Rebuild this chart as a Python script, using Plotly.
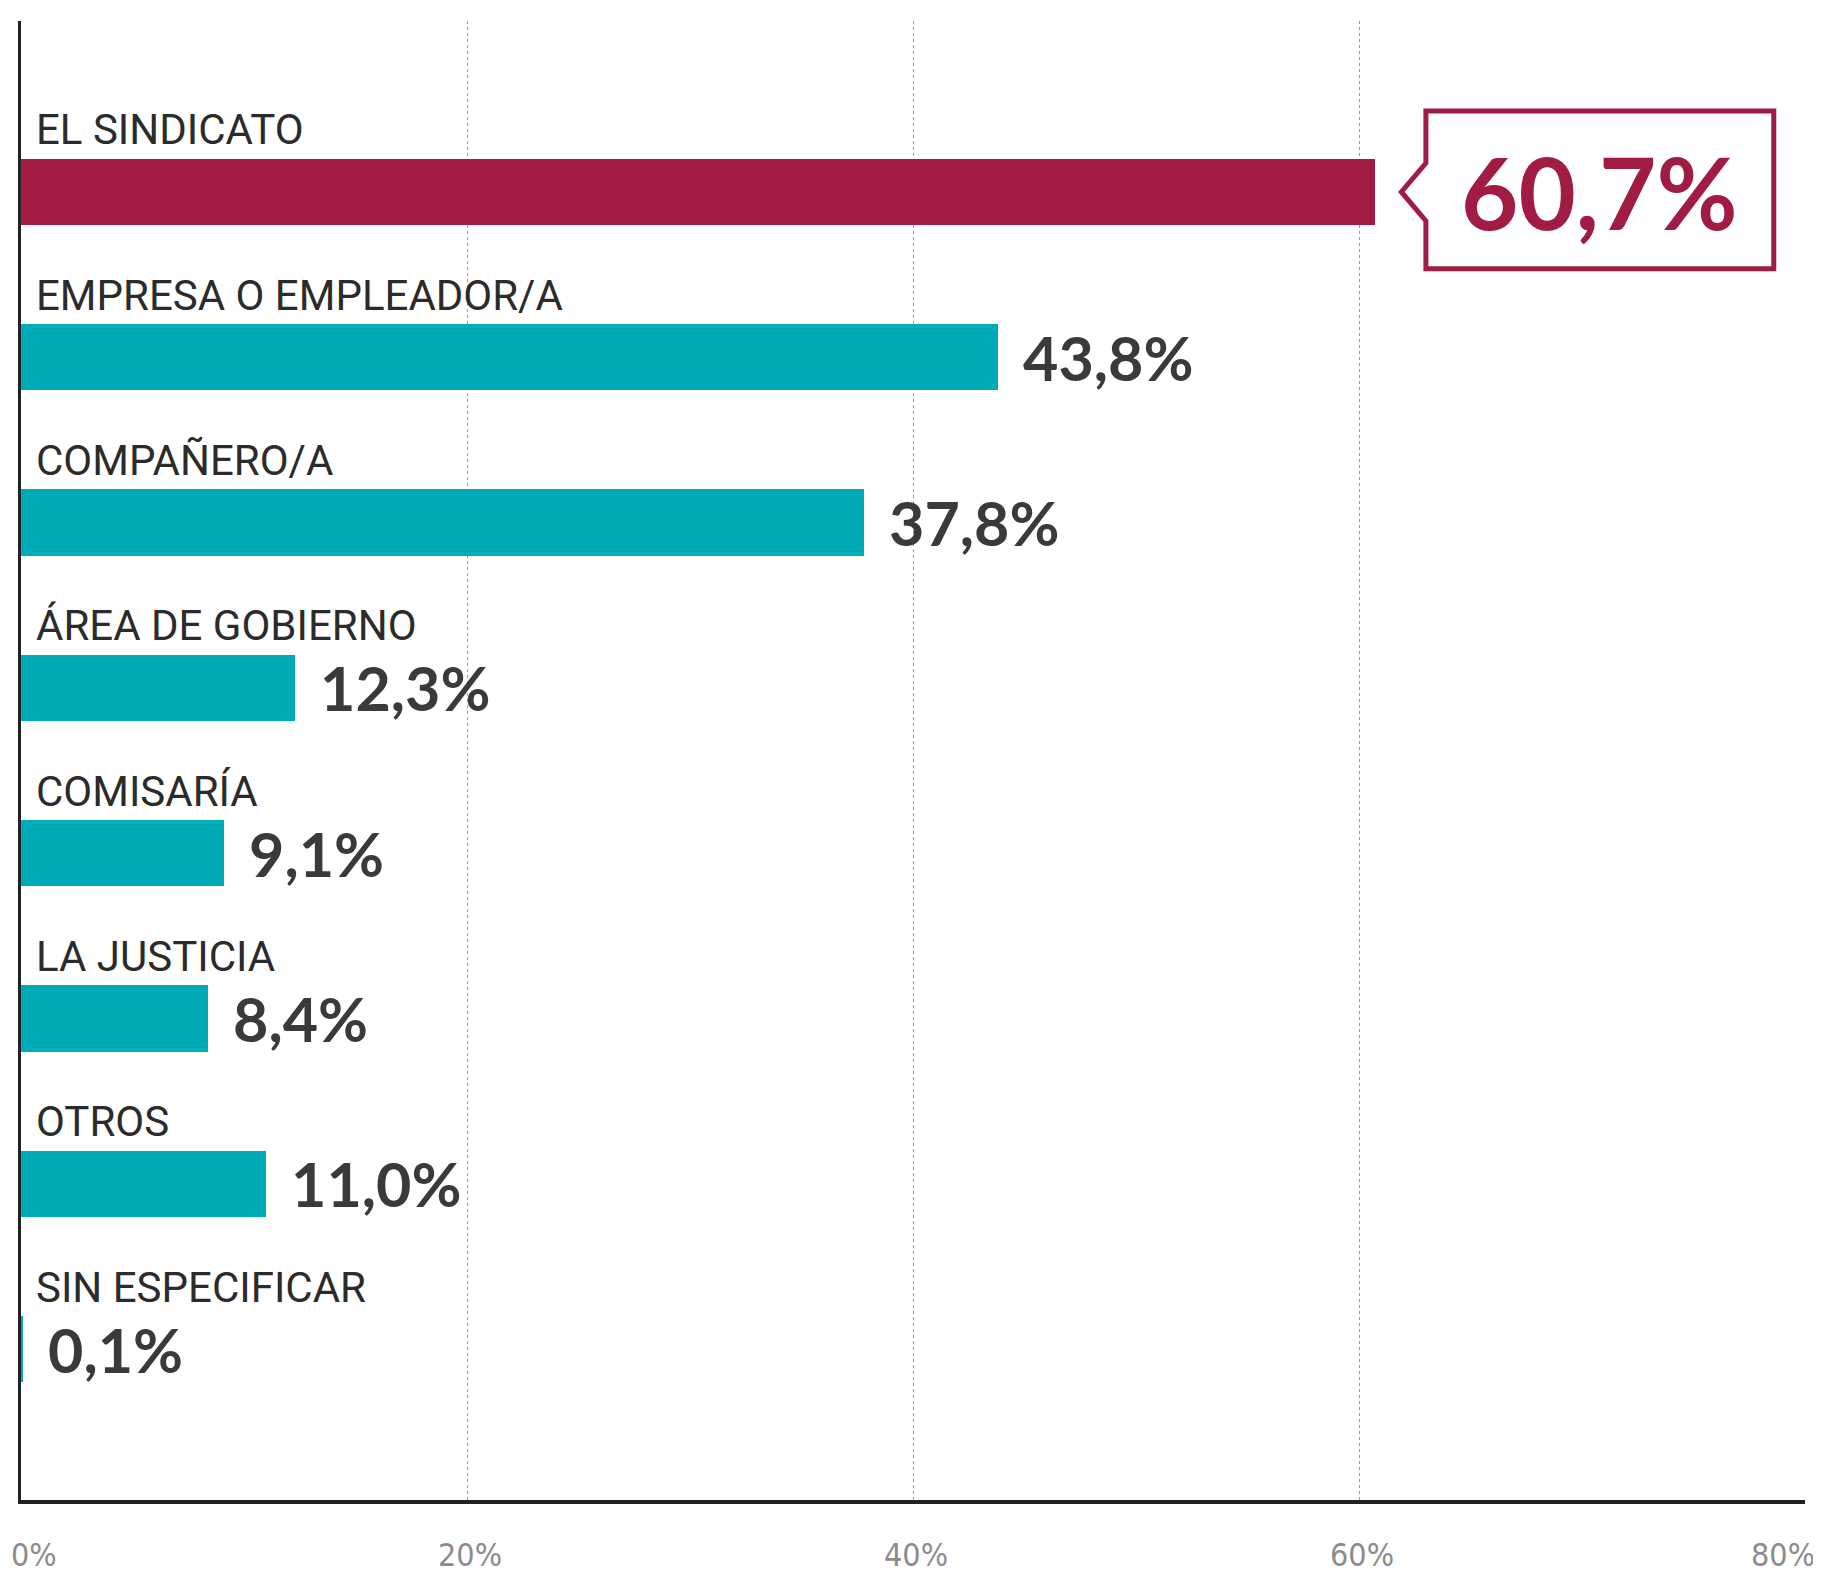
import plotly.graph_objects as go

categories = ["EL SINDICATO", "EMPRESA O EMPLEADOR/A", "COMPAÑERO/A", "ÁREA DE GOBIERNO",
              "COMISARÍA", "LA JUSTICIA", "OTROS", "SIN ESPECIFICAR"]
values = [60.7, 43.8, 37.8, 12.3, 9.1, 8.4, 11.0, 0.1]
value_labels = ["60,7%", "43,8%", "37,8%", "12,3%", "9,1%", "8,4%", "11,0%", "0,1%"]
tick_vals = [0, 20, 40, 60, 80]
tick_text = ["0%", "20%", "40%", "60%", "80%"]

CRIMSON = "#A11C42"
TEAL = "#00ABB8"
DARK = "#3a3a3a"

ypos = list(range(len(categories)))
colors = [CRIMSON] + [TEAL] * (len(categories) - 1)

fig = go.Figure()
fig.add_trace(go.Bar(
    x=values, y=ypos, orientation="h", width=0.40,
    marker=dict(color=colors, line=dict(width=0)),
    hoverinfo="skip", showlegend=False,
))

# category labels above bars
for i, c in enumerate(categories):
    fig.add_annotation(x=0, y=i - 0.375, xref="x", yref="y", text=c, showarrow=False,
                       xanchor="left", yanchor="middle", xshift=13,
                       font=dict(family="Roboto, Liberation Sans, sans-serif", size=42, color="#2b2b2b"))

# value labels (all but highlighted)
for i in range(1, len(values)):
    fig.add_annotation(x=values[i], y=i, xref="x", yref="y", text=value_labels[i], showarrow=False,
                       xanchor="left", yanchor="middle", xshift=23,
                       font=dict(family="Lato, sans-serif", size=61, color=DARK, weight="bold"))

# highlighted tag for the first value
v0 = values[0]
px = v0 + 1.2   # tip of notch
lx = v0 + 2.3   # left edge of box
rx = v0 + 17.9  # right edge of box
ty, by = -0.49, 0.465
n = 0.175
path = (f"M {lx},{ty} L {rx},{ty} L {rx},{by} L {lx},{by} L {lx},{n} "
        f"L {px},0 L {lx},{-n} Z")
fig.add_shape(type="path", path=path, xref="x", yref="y",
              line=dict(color=CRIMSON, width=5), fillcolor="white")
fig.add_annotation(x=(lx + rx) / 2, y=0, xref="x", yref="y", text=value_labels[0], showarrow=False,
                   xanchor="center", yanchor="middle",
                   font=dict(family="Lato, sans-serif", size=99, color=CRIMSON, weight="bold"))

# x tick labels
shifts = {0: 13, 80: -22}
for v, t in zip(tick_vals, tick_text):
    fig.add_annotation(x=v, y=0, xref="x", yref="paper", text=t, showarrow=False,
                       xanchor="center", yanchor="middle", yshift=-55, xshift=shifts.get(v, 3),
                       font=dict(family="Liberation Sans Narrow, DejaVu Sans Condensed, sans-serif",
                                 size=32, color="#8c8c8c"))

fig.update_xaxes(range=[0, 80], tickvals=tick_vals, showticklabels=False, ticks="",
                 showgrid=True, gridcolor="#9a9a9a", griddash="dot", gridwidth=1,
                 showline=True, linecolor="#222222", linewidth=4, zeroline=False,
                 fixedrange=True)
fig.update_yaxes(range=[7.913, -1.034], showticklabels=False, ticks="", showgrid=False,
                 showline=True, linecolor="#222222", linewidth=3, zeroline=False,
                 fixedrange=True)

fig.update_layout(width=1813, height=1565, margin=dict(l=13, r=16, t=13, b=73),
                  paper_bgcolor="white", plot_bgcolor="white", bargap=0)

fig.write_html("out.html")
